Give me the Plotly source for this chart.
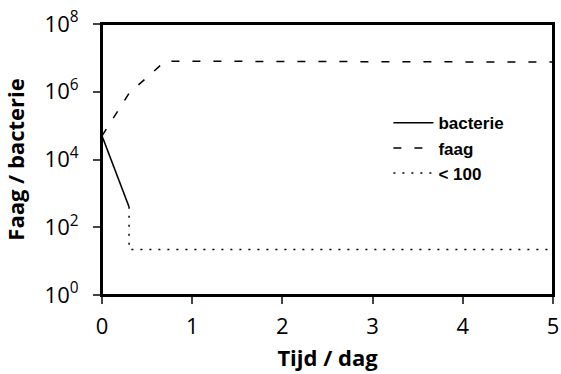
import plotly.graph_objects as go

# Data
bact_x = [0, 0.3]
bact_y = [5e4, 400]
faag_x = [0, 0.3, 0.7, 5]
faag_y = [5e4, 9e5, 8e6, 7.5e6]
lim_x = [0.3, 0.3, 5]
lim_y = [400, 22, 22]
ytick_vals = [1, 1e2, 1e4, 1e6, 1e8]
ytick_text = ["10<sup>0</sup>", "10<sup>2</sup>", "10<sup>4</sup>", "10<sup>6</sup>", "10<sup>8</sup>"]
xtick_vals = [0, 1, 2, 3, 4, 5]

FONT = "Open Sans"

fig = go.Figure()
fig.add_trace(go.Scatter(x=bact_x, y=bact_y, mode="lines", name="bacterie",
                         line=dict(color="black", width=1.5, dash="solid")))
fig.add_trace(go.Scatter(x=faag_x, y=faag_y, mode="lines", name="faag",
                         line=dict(color="black", width=1.5, dash="8px,13px")))
fig.add_trace(go.Scatter(x=lim_x, y=lim_y, mode="lines", name="< 100",
                         line=dict(color="black", width=1.5, dash="2px,7px")))

fig.update_layout(
    width=561, height=374,
    margin=dict(l=102, r=8, t=24, b=79),
    plot_bgcolor="white", paper_bgcolor="white",
    font=dict(family=FONT, color="black", size=22),
    showlegend=True,
    legend=dict(x=0.635, y=0.70, xanchor="left", yanchor="top",
                bgcolor="rgba(0,0,0,0)",
                font=dict(size=17, family="Liberation Sans", weight="bold"),
                itemwidth=40, tracegroupgap=0),
    xaxis=dict(range=[0, 5], tickvals=xtick_vals, ticks="outside", ticklen=7, tickwidth=2,
               showline=True, linewidth=2, linecolor="black", mirror=True, showgrid=False,
               zeroline=False, tickfont=dict(size=22), automargin=False,
               ticklabelstandoff=4,
               title=dict(text="<b>Tijd / dag</b>", font=dict(size=22), standoff=11)),
    yaxis=dict(type="log", range=[0, 8], tickvals=ytick_vals, ticktext=ytick_text,
               ticks="outside", ticklen=7, tickwidth=2,
               showline=True, linewidth=2, linecolor="black", mirror=True, showgrid=False,
               zeroline=False, tickfont=dict(size=22), automargin=False,
               ticklabelstandoff=10,
               title=dict(text="<b>Faag / bacterie</b>", font=dict(size=22), standoff=23)),
    shapes=[dict(type="rect", xref="paper", yref="paper", x0=0, x1=1, y0=0, y1=1,
                 line=dict(color="black", width=2), layer="above")],
)

fig.write_html(
    "out.html",
    config={"displayModeBar": False},
    post_script="document.body.style.margin='0';document.documentElement.style.overflow='hidden';",
)
